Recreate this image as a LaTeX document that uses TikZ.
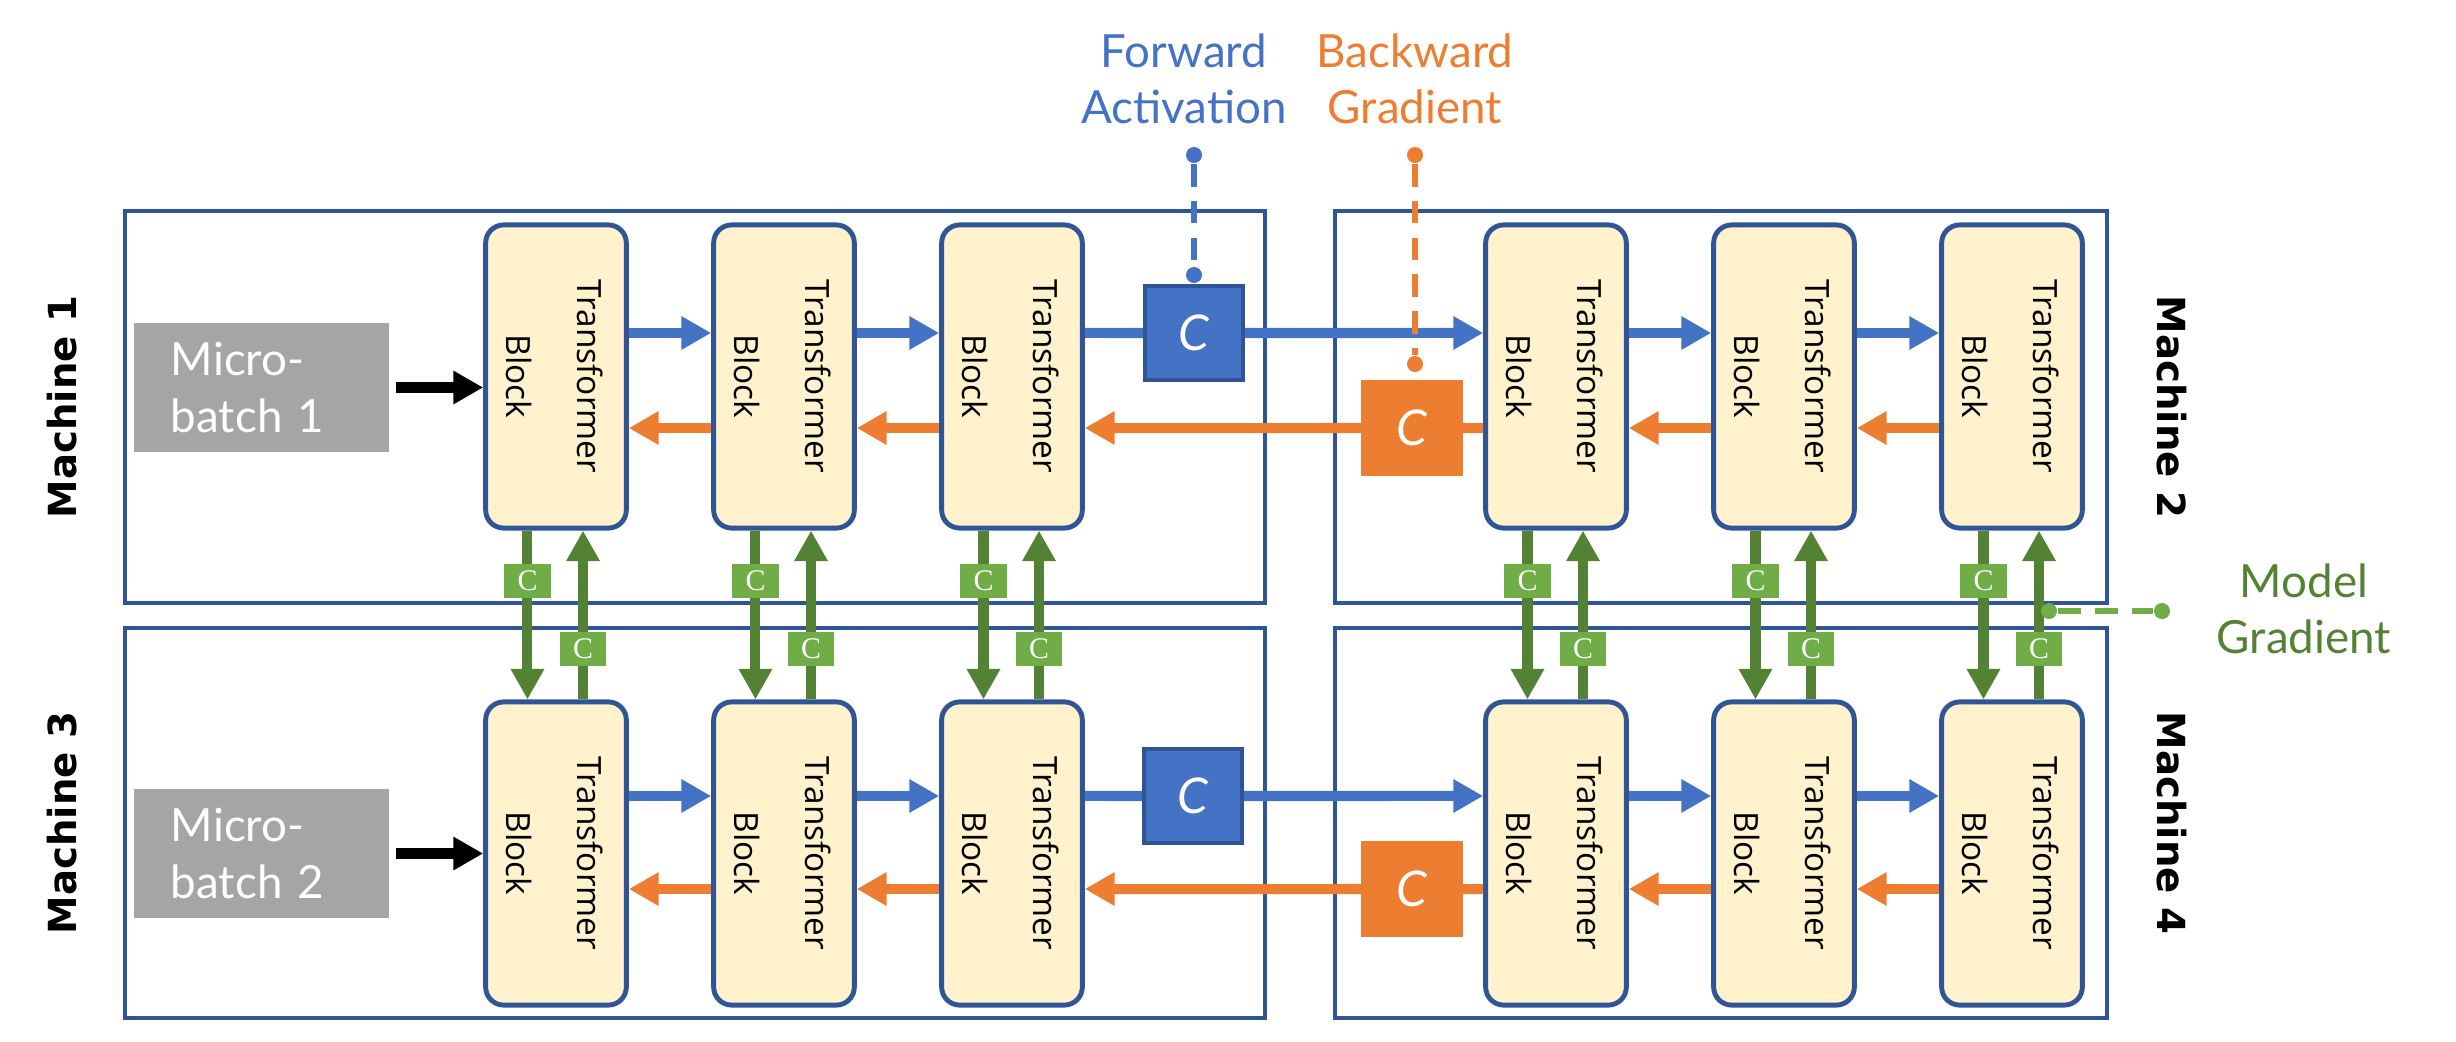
\documentclass[tikz,border=0pt]{standalone}
\usepackage{fontspec}
\usepackage{graphicx}
\setmainfont{Lato}
\newfontfamily\blockfont{Open Sans}
\newfontfamily\machfont{DejaVu Sans}
\newfontfamily\smallcfont{Liberation Serif}
\usetikzlibrary{arrows.meta}
\definecolor{boxblue}{HTML}{2F5597}
\definecolor{fwdblue}{HTML}{4472C4}
\definecolor{bwdorange}{HTML}{ED7D31}
\definecolor{graddark}{HTML}{548235}
\definecolor{gradlight}{HTML}{70AD47}
\definecolor{blockfill}{HTML}{FFF2CC}
\definecolor{microgrey}{HTML}{A5A5A5}
\newcommand{\tfblock}{\rotatebox{-90}{\begin{tabular}{@{}c@{}}Transformer\\Block\end{tabular}}}
\begin{document}
\begin{tikzpicture}[x=0.01cm,y=-0.01cm,
  machine/.style={draw=boxblue,line width=1.2pt,minimum height=3.92cm},
  tblock/.style={draw=boxblue,fill=blockfill,line width=1.4pt,rounded corners=1.8mm,
    minimum width=1.3cm,minimum height=3.03cm,inner sep=0,
    font=\blockfont\fontsize{9.5}{20}\selectfont},
  micro/.style={fill=microgrey,text=white,minimum height=1.29cm,text width=1.81cm,
    inner xsep=0.37cm,align=left,font=\fontsize{13}{16}\selectfont},
  fwdc/.style={draw=boxblue,fill=fwdblue,line width=1.2pt,text=white,
    minimum width=0.98cm,minimum height=0.94cm,font=\itshape\fontsize{14}{14}\selectfont},
  bwdc/.style={fill=bwdorange,text=white,minimum width=1.01cm,minimum height=0.96cm,
    font=\itshape\fontsize{14}{14}\selectfont},
  gradc/.style={fill=gradlight,text=white,minimum width=4.6mm,minimum height=3.4mm,
    inner sep=0,font=\smallcfont\fontsize{8.5}{8.5}\selectfont},
  machlabel/.style={font=\machfont\bfseries\fontsize{11}{13}\selectfont},
  note/.style={align=center,font=\fontsize{13}{16}\selectfont},
  notedot/.style={circle,fill,inner sep=0,minimum size=1.6mm},
  notedash/.style={line width=1.7pt,dash pattern=on 6.5pt off 4pt},
  fwd/.style={fwdblue,line width=2.85pt,-{Triangle[width=9pt,length=8.5pt]}},
  bwd/.style={bwdorange,line width=2.85pt,-{Triangle[width=9pt,length=8.5pt]}},
  grad/.style={graddark,line width=2.85pt,-{Triangle[width=9pt,length=8.7pt]}},
  feed/.style={black,line width=3.4pt,-{Triangle[width=9pt,length=8.5pt]}}]
\useasboundingbox (0,0) rectangle (2456,1042);

% machines
\node[machine,minimum width=11.4cm] (m1) at (695,407) {};
\node[machine,minimum width=7.72cm] (m2) at (1721,407) {};
\node[machine,minimum width=11.4cm,minimum height=3.9cm] (m3) at (695,823) {};
\node[machine,minimum width=7.72cm,minimum height=3.9cm] (m4) at (1721,823) {};
\node[machlabel,rotate=90] (ml1) at (62,407) {Machine 1};
\node[machlabel,rotate=-90] (ml2) at (2172,407) {Machine 2};
\node[machlabel,rotate=90] (ml3) at (62,823) {Machine 3};
\node[machlabel,rotate=-90] (ml4) at (2172,823) {Machine 4};

% micro-batches
\node[micro] (mb1) at (261.5,387.5) {Micro-\\batch 1};
\node[micro] (mb2) at (261.5,853.5) {Micro-\\batch 2};

% transformer blocks
\node[tblock] (b11) at (556,376.5) {\tfblock};
\node[tblock] (b12) at (784,376.5) {\tfblock};
\node[tblock] (b13) at (1012,376.5) {\tfblock};
\node[tblock] (b21) at (1556,376.5) {\tfblock};
\node[tblock] (b22) at (1784,376.5) {\tfblock};
\node[tblock] (b23) at (2012,376.5) {\tfblock};
\node[tblock] (b31) at (556,853.5) {\tfblock};
\node[tblock] (b32) at (784,853.5) {\tfblock};
\node[tblock] (b33) at (1012,853.5) {\tfblock};
\node[tblock] (b41) at (1556,853.5) {\tfblock};
\node[tblock] (b42) at (1784,853.5) {\tfblock};
\node[tblock] (b43) at (2012,853.5) {\tfblock};

% communication boxes
\node[fwdc] (fc1) at (1194,333) {C};
\node[fwdc] (fc2) at (1193,796) {C};
\node[bwdc] (bc1) at (1412,428) {C};
\node[bwdc] (bc2) at (1412,889) {C};

% input
\draw[feed] ([xshift=0.6mm]mb1.east) -- (mb1.east -| b11.west);
\draw[feed] ([xshift=0.6mm]mb2.east) -- (mb2.east -| b31.west);

% forward
\draw[fwd] ([yshift=4.35mm]b11.east) -- ([yshift=4.35mm]b12.west);
\draw[fwd] ([yshift=4.35mm]b12.east) -- ([yshift=4.35mm]b13.west);
\draw[fwd,-] ([yshift=4.35mm]b13.east) -- (fc1.west);
\draw[fwd] (fc1.east) -- ([yshift=4.35mm]b21.west);
\draw[fwd] ([yshift=4.35mm]b21.east) -- ([yshift=4.35mm]b22.west);
\draw[fwd] ([yshift=4.35mm]b22.east) -- ([yshift=4.35mm]b23.west);
\draw[fwd] ([yshift=5.75mm]b31.east) -- ([yshift=5.75mm]b32.west);
\draw[fwd] ([yshift=5.75mm]b32.east) -- ([yshift=5.75mm]b33.west);
\draw[fwd,-] ([yshift=5.75mm]b33.east) -- (fc2.west);
\draw[fwd] (fc2.east) -- ([yshift=5.75mm]b41.west);
\draw[fwd] ([yshift=5.75mm]b41.east) -- ([yshift=5.75mm]b42.west);
\draw[fwd] ([yshift=5.75mm]b42.east) -- ([yshift=5.75mm]b43.west);

% backward
\draw[bwd] ([yshift=-5.15mm]b12.west) -- ([yshift=-5.15mm]b11.east);
\draw[bwd] ([yshift=-5.15mm]b13.west) -- ([yshift=-5.15mm]b12.east);
\draw[bwd] (bc1.west) -- ([yshift=-5.15mm]b13.east);
\draw[bwd,-] ([yshift=-5.15mm]b21.west) -- (bc1.east);
\draw[bwd] ([yshift=-5.15mm]b22.west) -- ([yshift=-5.15mm]b21.east);
\draw[bwd] ([yshift=-5.15mm]b23.west) -- ([yshift=-5.15mm]b22.east);
\draw[bwd] ([yshift=-3.55mm]b32.west) -- ([yshift=-3.55mm]b31.east);
\draw[bwd] ([yshift=-3.55mm]b33.west) -- ([yshift=-3.55mm]b32.east);
\draw[bwd] (bc2.west) -- ([yshift=-3.55mm]b33.east);
\draw[bwd,-] ([yshift=-3.55mm]b41.west) -- (bc2.east);
\draw[bwd] ([yshift=-3.55mm]b42.west) -- ([yshift=-3.55mm]b41.east);
\draw[bwd] ([yshift=-3.55mm]b43.west) -- ([yshift=-3.55mm]b42.east);

% model gradients
\draw[grad] ([xshift=-2.85mm]b11.south) -- node[gradc,pos=0.3] (g11) {C} ([xshift=-2.85mm]b31.north);
\draw[grad] ([xshift=2.7mm]b31.north) -- node[gradc,pos=0.3] (g31) {C} ([xshift=2.7mm]b11.south);
\draw[grad] ([xshift=-2.85mm]b12.south) -- node[gradc,pos=0.3] (g12) {C} ([xshift=-2.85mm]b32.north);
\draw[grad] ([xshift=2.7mm]b32.north) -- node[gradc,pos=0.3] (g32) {C} ([xshift=2.7mm]b12.south);
\draw[grad] ([xshift=-2.85mm]b13.south) -- node[gradc,pos=0.3] (g13) {C} ([xshift=-2.85mm]b33.north);
\draw[grad] ([xshift=2.7mm]b33.north) -- node[gradc,pos=0.3] (g33) {C} ([xshift=2.7mm]b13.south);
\draw[grad] ([xshift=-2.85mm]b21.south) -- node[gradc,pos=0.3] (g21) {C} ([xshift=-2.85mm]b41.north);
\draw[grad] ([xshift=2.7mm]b41.north) -- node[gradc,pos=0.3] (g41) {C} ([xshift=2.7mm]b21.south);
\draw[grad] ([xshift=-2.85mm]b22.south) -- node[gradc,pos=0.3] (g22) {C} ([xshift=-2.85mm]b42.north);
\draw[grad] ([xshift=2.7mm]b42.north) -- node[gradc,pos=0.3] (g42) {C} ([xshift=2.7mm]b22.south);
\draw[grad] ([xshift=-2.85mm]b23.south) -- node[gradc,pos=0.3] (g23) {C} ([xshift=-2.85mm]b43.north);
\draw[grad] ([xshift=2.7mm]b43.north) -- node[gradc,pos=0.3] (g43) {C} ([xshift=2.7mm]b23.south);

% notes
\node[note,text=fwdblue] (fwdnote) at (1184,79) {Forward\\Activation};
\node[note,text=bwdorange] (bwdnote) at (1415,79) {Backward\\Gradient};
\node[note,text=graddark] (gradnote) at (2304,609) {Model\\Gradient};
\node[notedot,fwdblue] (fd1) at (1194,155) {};
\node[notedot,fwdblue] (fd2) at (1194,275) {};
\node[notedot,bwdorange] (bd1) at (1415,155) {};
\node[notedot,bwdorange] (bd2) at (1415,364) {};
\node[notedot,gradlight] (gd1) at (2049,611) {};
\node[notedot,gradlight] (gd2) at (2162,611) {};
\draw[notedash,fwdblue] (fd1) -- (fd2);
\draw[notedash,bwdorange] (bd1) -- (bd2);
\draw[notedash,gradlight,line width=1.9pt] (gd1) -- (gd2);
\end{tikzpicture}
\end{document}
